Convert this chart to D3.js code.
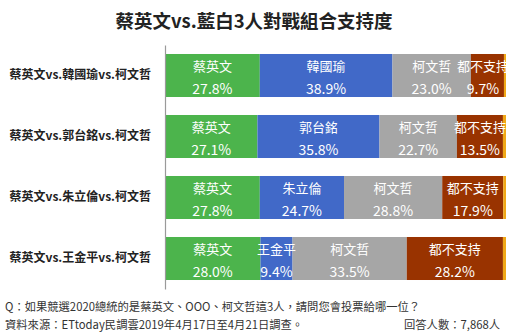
<!DOCTYPE html>
<html>
<head>
<meta charset="utf-8">
<script src="https://cdn.jsdelivr.net/npm/d3@7"></script>
<style>
  html, body { margin: 0; padding: 0; background: #fff; }
  svg { display: block; font-family: "Noto Sans CJK TC", "Noto Sans", sans-serif; }
</style>
</head>
<body>
<svg id="chart" width="511" height="334"></svg>
<script>
// Three-way race support, four match-ups
const matchups = ["蔡英文vs.韓國瑜vs.柯文哲", "蔡英文vs.郭台銘vs.柯文哲", "蔡英文vs.朱立倫vs.柯文哲", "蔡英文vs.王金平vs.柯文哲"];
const blueNames = ["韓國瑜", "郭台銘", "朱立倫", "王金平"];
const tsaiValues = [27.8, 27.1, 27.8, 28.0];
const blueValues = [38.9, 35.8, 24.7, 9.4];
const koValues = [23.0, 22.7, 28.8, 33.5];
const noneValues = [9.7, 13.5, 17.9, 28.2];
const otherValues = [0.6, 0.9, 0.8, 0.9];   // unlabeled remainder

const seriesKeys = ["tsai", "blue", "ko", "none", "other"];
const seriesColors = ["#4cb44c", "#4169c8", "#a6a6a6", "#993300", "#f0a818"];

const svg = d3.select("#chart");

// Title
svg.append("text")
  .attr("x", 254).attr("y", 28)
  .attr("text-anchor", "middle")
  .attr("font-size", 18.5).attr("font-weight", "bold").attr("fill", "#222")
  .text("蔡英文vs.藍白3人對戰組合支持度");

const rows = matchups.map((m, i) => ({
  matchup: m,
  blueName: blueNames[i],
  tsai: tsaiValues[i], blue: blueValues[i], ko: koValues[i],
  none: noneValues[i], other: otherValues[i]
}));

const x = d3.scaleLinear().domain([0, 100]).range([165, 506]);
const y = d3.scaleBand().domain(matchups).range([45, 289])
  .paddingInner(0.295).paddingOuter(0.1475);
const color = d3.scaleOrdinal().domain(seriesKeys).range(seriesColors);

const stacked = d3.stack().keys(seriesKeys)(rows);

svg.append("g").selectAll("g")
  .data(stacked).join("g")
  .attr("fill", d => color(d.key))
  .selectAll("rect")
  .data(d => d).join("rect")
  .attr("x", d => x(d[0]))
  .attr("y", d => y(d.data.matchup))
  .attr("width", d => x(d[1]) - x(d[0]))
  .attr("height", y.bandwidth());

// Category axis
const axis = svg.append("g")
  .attr("transform", `translate(${x(0)},0)`)
  .call(d3.axisLeft(y).tickSize(0).tickPadding(14));
axis.select(".domain").attr("stroke", "#9a9a9a").attr("stroke-width", 1.2);
axis.selectAll("text")
  .attr("font-size", 12).attr("font-weight", "bold").attr("fill", "#222")
  .style("font-family", "'Noto Sans CJK TC', sans-serif");

// Segment labels: name on top, share below
const labelled = stacked.filter(s => s.key !== "other");
const nameOf = (key, row) => ({ tsai: "蔡英文", blue: row.blueName, ko: "柯文哲", none: "都不支持" })[key];
const labels = [];
labelled.forEach(s => s.forEach(d => labels.push({ key: s.key, d })));

const lg = svg.append("g").attr("fill", "#fff").attr("text-anchor", "middle");
labels.forEach(({ key, d }) => {
  const cy = y(d.data.matchup) + y.bandwidth() / 2;
  const name = nameOf(key, d.data);
  const nameW = name.length * 13;
  let cx = (x(d[0]) + x(d[1])) / 2;
  cx = Math.min(cx, 509 - nameW / 2);
  lg.append("text")
    .attr("x", cx).attr("y", cy - 10.5)
    .attr("dominant-baseline", "central")
    .attr("font-size", 13)
    .text(name);
  lg.append("text")
    .attr("x", cx).attr("y", cy + 12.5)
    .attr("dominant-baseline", "central")
    .attr("font-size", 14)
    .text(d3.format(".1f")(d[1] - d[0]) + "%");
});

// Footnotes
const foot = svg.append("g").attr("font-size", 11.3).attr("fill", "#333");
foot.append("text").attr("x", 5).attr("y", 311)
  .text("Q：如果競選2020總統的是蔡英文、OOO、柯文哲這3人，請問您會投票給哪一位？");
foot.append("text").attr("x", 5).attr("y", 329)
  .text("資料來源：ETtoday民調雲2019年4月17日至4月21日調查。");
foot.append("text").attr("x", 500).attr("y", 329).attr("text-anchor", "end")
  .text("回答人數：7,868人");
</script>
</body>
</html>
